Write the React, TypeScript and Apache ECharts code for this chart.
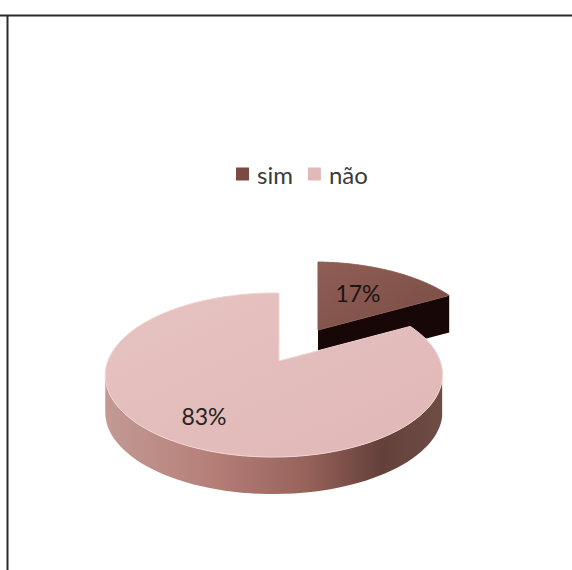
import React, { useEffect, useRef } from "react";
import * as echarts from "echarts";

const categories = ["sim", "não"];
const shares = [17, 83];

// Disc projection: a unit circle tilted away from the viewer, with mild perspective.
const RX = 166;
const RY = 79.6;
const PERSPECTIVE_Y = 0.171;
const PERSPECTIVE_X = 0.03;
const DEPTH = 37;
const STEPS = 120;

type Pt = [number, number];

function project(cx: number, cy: number, deg: number): Pt {
  const t = (deg * Math.PI) / 180;
  const X = Math.sin(t);
  const Y = Math.cos(t);
  const w = 1 + PERSPECTIVE_Y * Y + PERSPECTIVE_X * X;
  return [cx + (RX * X) / w, cy - (RY * Y) / w];
}

const lowered = (p: Pt): Pt => [p[0], p[1] + DEPTH];

interface SliceStyle {
  apex: Pt;
  labelAt: Pt;
  top: any;
  rim: string;
  side: any;
  cut: string;
  label: string;
}

const sliceStyles: SliceStyle[] = [
  {
    apex: [318, 330],
    labelAt: [358, 293],
    top: new echarts.graphic.LinearGradient(0, 0, 1, 1, [
      { offset: 0, color: "#8f5f56" },
      { offset: 1, color: "#7a4b42" },
    ]),
    rim: "#8a5c53",
    side: "#170807",
    cut: "#170807",
    label: "#1c1414",
  },
  {
    apex: [279, 361],
    labelAt: [204, 416],
    top: new echarts.graphic.LinearGradient(0, 0, 1, 1, [
      { offset: 0, color: "#e6c3c2" },
      { offset: 1, color: "#e0b7b6" },
    ]),
    rim: "#eed6d3",
    side: new echarts.graphic.LinearGradient(0, 0, 1, 0, [
      { offset: 0, color: "#c39a94" },
      { offset: 0.32, color: "#b57f78" },
      { offset: 0.6, color: "#96625a" },
      { offset: 0.82, color: "#64403a" },
      { offset: 1, color: "#6e4d45" },
    ]),
    cut: "#8d5a50",
    label: "#2a2222",
  },
];

const total = shares.reduce((a, b) => a + b, 0);

function sliceAngles(index: number): [number, number] {
  let start = 0;
  for (let i = 0; i < index; i++) start += (shares[i] / total) * 360;
  return [start, start + (shares[index] / total) * 360];
}

function renderSlice(index: number) {
  return (_params: any, api: any) => {
    const value = api.value(0) as number;
    const style = sliceStyles[index];
    const [cx, cy] = style.apex;
    const [from] = sliceAngles(index);
    const to = from + (value / total) * 360;

    const arc: Pt[] = [];
    for (let i = 0; i <= STEPS; i++) {
      arc.push(project(cx, cy, from + ((to - from) * i) / STEPS));
    }

    const children: any[] = [];

    // Outer wall: only the stretch of rim that runs right-to-left faces the viewer.
    const front = arc.filter((p, i) => i > 0 && p[0] < arc[i - 1][0]);
    if (front.length > 1) {
      children.push({
        type: "polygon",
        shape: { points: [...front, ...front.map(lowered).reverse()] },
        style: { fill: style.side },
      });
    }

    // Cut face on the clockwise end of the slice, when it turns towards the viewer.
    if (Math.sin((to * Math.PI) / 180) > 0.01) {
      const corner = arc[arc.length - 1];
      children.push({
        type: "polygon",
        shape: { points: [[cx, cy], corner, lowered(corner), lowered([cx, cy])] },
        style: { fill: style.cut },
      });
    }

    children.push({
      type: "polygon",
      shape: { points: [[cx, cy], ...arc] },
      style: { fill: style.top, stroke: style.rim, lineWidth: 1 },
    });

    children.push({
      type: "text",
      style: {
        text: `${value}%`,
        x: style.labelAt[0],
        y: style.labelAt[1],
        fill: style.label,
        font: '23px Lato, "Noto Sans", sans-serif',
        align: "center",
        verticalAlign: "middle",
      },
    });

    return { type: "group", children };
  };
}

export default function App() {
  const ref = useRef<HTMLDivElement>(null);

  useEffect(() => {
    document.body.style.margin = "0";
    const chart = echarts.init(ref.current!, undefined, { renderer: "svg" });
    chart.setOption({
      animation: false,
      backgroundColor: "#ffffff",
      legend: {
        left: 231,
        top: 157,
        itemWidth: 13,
        itemHeight: 13,
        itemGap: 15,
        icon: "rect",
        data: categories,
        textStyle: {
          color: "#3a3a3a",
          fontSize: 24,
          fontFamily: 'Lato, "Noto Sans", sans-serif',
          padding: [0, 0, 0, 3],
        },
      },
      graphic: [
        {
          type: "line",
          shape: { x1: 0, y1: 15.5, x2: 572, y2: 15.5 },
          style: { stroke: "#2b2b2b", lineWidth: 2 },
        },
        {
          type: "line",
          shape: { x1: 7.5, y1: 15.5, x2: 7.5, y2: 570 },
          style: { stroke: "#2b2b2b", lineWidth: 2 },
        },
      ],
      series: categories.map((name, i) => ({
        type: "custom",
        name,
        coordinateSystem: "none",
        itemStyle: { color: i === 0 ? "#7b4a42" : "#e2b9b9" },
        data: [[shares[i]]],
        renderItem: renderSlice(i),
      })),
    });
    return () => chart.dispose();
  }, []);

  return (
    <div
      ref={ref}
      style={{ position: "absolute", left: 0, top: 0, width: 572, height: 570 }}
    />
  );
}
